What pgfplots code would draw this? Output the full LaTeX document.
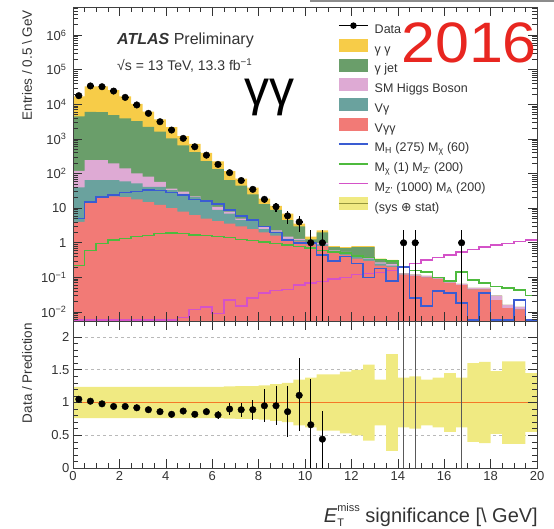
\documentclass[border=0pt]{standalone}
\usepackage{pgfplots}
\pgfplotsset{compat=1.18}
\usepackage{pgfplotstable}
\usepackage{fontspec}
\setmainfont{Liberation Sans}
\newfontfamily\dejavu{DejaVu Sans}

\definecolor{cyy}{RGB}{247,204,72}
\definecolor{cgj}{RGB}{106,158,106}
\definecolor{chig}{RGB}{222,170,212}
\definecolor{cvg}{RGB}{106,162,158}
\definecolor{cvgg}{RGB}{242,122,118}
\definecolor{lblue}{RGB}{58,92,210}
\definecolor{lgreen}{RGB}{78,186,62}
\definecolor{lmag}{RGB}{212,82,200}
\definecolor{bandc}{RGB}{240,234,130}
\definecolor{bandl}{RGB}{150,150,60}
\definecolor{redtxt}{RGB}{232,38,32}
\definecolor{oline}{RGB}{245,120,40}

% cumulative stack tops per 0.5 bin (left edge), plus signal shapes
\pgfplotstableread{
x     red     teal    higgs   gjet    tot     sigA    sigB    sigC
0     4       40      120     4500    17000   5       0.22    0.0058
0.5   14      65      245     6100    33300   15      0.6     0.0058
1     20      65      245     6000    33000   21      0.95    0.0058
1.5   22      65      196     4900    25700   24      1.2     0.0058
2     21      60      141     3950    16900   28      1.35    0.0058
2.5   18      52      101     3300    10400   30      1.5     0.0058
3     15      41      81      2240    6200    33      1.65    0.0058
3.5   12.5    41      58      1620    3660    32      1.85    0.0058
4     10      33      37      1040    2200    28      1.9     0.0058
4.5   8       26      30      650     1200    24      1.85    0.007
5     6.3     21      22      420     725     18      1.7     0.012
5.5   5       15      16      230     397     16      1.6     0.014
6     4.2     9       11      135     227     13      1.5     0.009
6.5   3.6     7       8       65      118     9       1.4     0.022
7     3.0     4.5     5       45      71      6       1.25    0.015
7.5   2.5     4.2     4.5     25      39      4.5     1.15    0.025
8     2.0     2.5     3.0     13      19      3.0     1.05    0.035
8.5   1.6     2.1     2.3     9       11.6    2.0     0.95    0.042
9     1.2     1.3     1.5     4.5     7       1.2     0.85    0.045
9.5   1.1     1.2     1.3     3.0     3.6     1.0     0.78    0.06
10    0.9     0.95    1.0     1.25    1.5     1.0     0.7     0.068
10.5  0.8     0.9     1.0     2.0     2.3     0.45    0.6     0.075
11    0.5     0.55    0.6     0.75    0.8     0.3     0.55    0.09
11.5  0.45    0.5     0.55    0.7     0.75    0.4     0.5     0.1
12    0.35    0.4     0.42    0.75    0.8     0.25    0.42    0.12
12.5  0.3     0.35    0.38    0.75    0.8     0.1     0.38    0.13
13    0.22    0.25    0.27    0.33    0.35    0.18    0.33    0.14
13.5  0.2     0.22    0.24    0.3     0.32    0.08    0.3     0.16
14    0.12    0.12    0.13    0.13    0.13    0.2     0.2     0.2
14.5  0.11    0.11    0.12    0.12    0.12    0.025   0.16    0.25
15    0.1     0.1     0.11    0.11    0.11    0.015   0.145   0.32
15.5  0.09    0.09    0.1     0.1     0.1     0.04    0.1     0.38
16    0.07    0.07    0.075   0.075   0.075   0.035   0.08    0.45
16.5  0.06    0.06    0.065   0.065   0.065   0.018   0.145   0.55
17    0.045   0.045   0.05    0.05    0.05    0.0058  0.085   0.65
17.5  0.045   0.045   0.05    0.05    0.05    0.035   0.068   0.75
18    0.022   0.022   0.03    0.03    0.03    0.0058  0.055   0.85
18.5  0.013   0.013   0.016   0.016   0.016   0.0058  0.05    0.95
19    0.012   0.012   0.014   0.014   0.014   0.022   0.043   1.1
19.5  0.0001  0.0001  0.0001  0.0001  0.0001  0.0058  0.03    1.2
20    0.0001  0.0001  0.0001  0.0001  0.0001  0.0058  0.03    1.2
}\stack

% observed events per bin
\pgfplotstableread{
x      y      ep     em
0.25   17800  133    133
0.75   34000  184    184
1.25   32300  180    180
1.75   24200  156    156
2.25   15900  126    126
2.75   9600   98     98
3.25   5500   74     74
3.75   3150   56     56
4.25   1810   43     43
4.75   1040   32     32
5.25   595    24     24
5.75   341    18     18
6.25   184    13.6   13.6
6.75   106    10.3   10.3
7.25   63     7.9    7.9
7.75   35     5.9    5.9
8.25   18     4.2    4.2
8.75   11     3.3    3.3
9.25   6      2.45   2.45
9.75   4      2      2
10.25  1      1.3    0.999
10.75  1      1.3    0.999
14.25  1      1.3    0.999
14.75  1      1.3    0.999
16.75  1      1.3    0.999
}\data

% data / prediction
\pgfplotstableread{
x      r      ep     em
0.25   1.05   0.015  0.015
0.75   1.02   0.01   0.01
1.25   0.98   0.01   0.01
1.75   0.94   0.01   0.01
2.25   0.94   0.01   0.01
2.75   0.92   0.012  0.012
3.25   0.89   0.015  0.015
3.75   0.86   0.02   0.02
4.25   0.82   0.025  0.025
4.75   0.87   0.03   0.03
5.25   0.82   0.035  0.035
5.75   0.86   0.045  0.045
6.25   0.81   0.06   0.06
6.75   0.90   0.09   0.09
7.25   0.89   0.11   0.11
7.75   0.89   0.15   0.15
8.25   0.95   0.25   0.25
8.75   0.95   0.3    0.3
9.25   0.86   0.39   0.39
9.75   1.11   0.57   0.55
10.25  0.66   0.7    0.66
10.75  0.44   0.43   0.44
}\ratio

% sys + stat uncertainty band on the ratio: lower edge and width
\pgfplotstableread{
x     lo     w
0     0.76   0.48
0.5   0.76   0.48
1     0.76   0.48
1.5   0.76   0.48
2     0.76   0.48
2.5   0.76   0.48
3     0.76   0.48
3.5   0.76   0.48
4     0.76   0.48
4.5   0.76   0.48
5     0.76   0.48
5.5   0.76   0.48
6     0.76   0.48
6.5   0.755  0.49
7     0.75   0.50
7.5   0.75   0.50
8     0.74   0.52
8.5   0.72   0.56
9     0.70   0.60
9.5   0.65   0.70
10    0.62   0.76
10.5  0.57   0.86
11    0.57   0.86
11.5  0.53   0.94
12    0.50   1.00
12.5  0.42   1.16
13    0.65   0.70
13.5  0.26   1.48
14    0.62   0.76
14.5  0.60   0.80
15    0.65   0.70
15.5  0.62   0.76
16    0.55   0.90
16.5  0.62   0.76
17    0.40   1.20
17.5  0.38   1.24
18    0.52   0.96
18.5  0.37   1.26
19    0.37   1.26
19.5  0.55   0.90
20    0.55   0.90
}\band

\pgfplotsset{
  panel/.style={
    scale only axis, width=464pt,
    xmin=0, xmax=20,
    tick align=inside,
    major tick length=9pt, minor tick length=5pt,
    tick style={line width=0.6pt, black!80},
    axis line style={black!75, line width=0.8pt},
    tick label style={font=\fontsize{13}{15}\selectfont, text=black!80},
    /pgf/number format/assume math mode=true,
    xtick={0,2,...,20}, minor x tick num=3,
    axis on top,
  },
  hist/.style={const plot, draw=none, forget plot},
  sig/.style={const plot, line width=1.5pt, forget plot},
  offscale/.style={black!65, line width=1.4pt, forget plot},
  % legend symbols, all in one fixed-size cell
  legbox/.style={legend image code/.code={
    \path[draw=none, fill=none] (0pt,-4.5pt) rectangle (29pt,13pt);
    \fill[#1, draw=none] (0pt,-2.5pt) rectangle (29pt,10.5pt);}},
  legline/.style={legend image code/.code={
    \path[draw=none, fill=none] (0pt,-4.5pt) rectangle (29pt,13pt);
    \draw[#1, line width=1.6pt] (0pt,4pt) -- (29pt,4pt);}},
}

\begin{document}
\begin{tikzpicture}
\path[use as bounding box] (0pt,0pt) rectangle (554pt,-529pt);
\fill[black!45] (310pt,0pt) rectangle (554pt,-2.5pt);

% ---------------- upper panel: event yields ----------------
\begin{axis}[
  panel,
  at={(73pt,-321pt)}, anchor=south west, height=314pt,
  ymode=log, ymin=0.0055, ymax=6.5e6, log origin y=infty,
  xticklabels={},
  ytick={1e-2,1e-1,1,10,1e2,1e3,1e4,1e5,1e6},
  yticklabels={10\textsuperscript{−2},10\textsuperscript{−1},1,10,10\textsuperscript{2},10\textsuperscript{3},10\textsuperscript{4},10\textsuperscript{5},10\textsuperscript{6}},
  minor ytick={0.006,0.007,0.008,0.009,0.02,0.03,0.04,0.05,0.06,0.07,0.08,0.09,0.2,0.3,0.4,0.5,0.6,0.7,0.8,0.9,2,3,4,5,6,7,8,9,20,30,40,50,60,70,80,90,200,300,400,500,600,700,800,900,2000,3000,4000,5000,6000,7000,8000,9000,2e4,3e4,4e4,5e4,6e4,7e4,8e4,9e4,2e5,3e5,4e5,5e5,6e5,7e5,8e5,9e5,2e6,3e6,4e6,5e6,6e6},
  yticklabel style={xshift=-3pt},
  legend cell align=left,
  legend style={
    at={(0.571,0.970)}, anchor=north west,
    draw=none, fill=none, inner sep=0pt,
    font=\fontsize{12.5}{14}\selectfont,
    row sep=0pt,
    nodes={inner sep=0pt, text height=10.5pt, text depth=3pt, text=black!80},
    /tikz/every odd column/.append style={column sep=6pt},
  },
]
\addplot[hist, fill=cyy]  table[x=x, y=tot]   {\stack} \closedcycle;
\addplot[hist, fill=cgj]  table[x=x, y=gjet]  {\stack} \closedcycle;
\addplot[hist, fill=chig] table[x=x, y=higgs] {\stack} \closedcycle;
\addplot[hist, fill=cvg]  table[x=x, y=teal]  {\stack} \closedcycle;
\addplot[hist, fill=cvgg] table[x=x, y=red]   {\stack} \closedcycle;

\addplot[sig, lmag]   table[x=x, y=sigC] {\stack};
\addplot[sig, lgreen] table[x=x, y=sigB] {\stack};
\addplot[sig, lblue]  table[x=x, y=sigA] {\stack};

\addplot[only marks, mark=*, mark size=3.3pt, black, forget plot,
  error bars/.cd, y dir=both, y explicit, x dir=both, x fixed=0.15,
  error mark=none, error bar style={line width=1.2pt, black}]
  table[x=x, y=y, y error plus=ep, y error minus=em] {\data};

\addlegendimage{legend image code/.code={
  \path[draw=none, fill=none] (0pt,-4.5pt) rectangle (29pt,13pt);
  \draw[black, line width=1.2pt] (0pt,4pt) -- (29pt,4pt);
  \fill[black, draw=none] (14.5pt,4pt) circle (3.3pt);}}
\addlegendentry{Data}
\addlegendimage{legbox=cyy}
\addlegendentry{γ γ}
\addlegendimage{legbox=cgj}
\addlegendentry{γ jet}
\addlegendimage{legbox=chig}
\addlegendentry{SM Higgs Boson}
\addlegendimage{legbox=cvg}
\addlegendentry{Vγ}
\addlegendimage{legbox=cvgg}
\addlegendentry{Vγγ}
\addlegendimage{legline=lblue}
\addlegendentry{M\textsubscript{H} (275) M\textsubscript{χ} (60)}
\addlegendimage{legline=lgreen}
\addlegendentry{M\textsubscript{χ} (1) M\textsubscript{Z'} (200)}
\addlegendimage{legline=lmag}
\addlegendentry{M\textsubscript{Z'} (1000) M\textsubscript{A} (200)}
\addlegendimage{legend image code/.code={
  \path[draw=none, fill=none] (0pt,-4.5pt) rectangle (29pt,13pt);
  \fill[bandc, draw=none] (0pt,-2.5pt) rectangle (29pt,10.5pt);
  \draw[bandl, line width=1.5pt] (0pt,4pt) -- (29pt,4pt);}}
\addlegendentry{(sys {\dejavu ⊕} stat)}
\end{axis}

% ---------------- lower panel: ratio ----------------
\begin{axis}[
  panel,
  at={(73pt,-468pt)}, anchor=south west, height=147pt,
  ymin=0, ymax=2.245,
  ytick={0,0.5,1,1.5,2}, minor y tick num=4,
  yticklabels={0,0.5,1,1.5,2},
  xticklabels={0,2,4,6,8,10,12,14,16,18,20},
]
\addplot[gray!55, dashed, line width=0.8pt, forget plot] coordinates {(0,0.5) (20,0.5)};
\addplot[gray!55, dashed, line width=0.8pt, forget plot] coordinates {(0,1.5) (20,1.5)};
\addplot[gray!55, dashed, line width=0.8pt, forget plot] coordinates {(0,2) (20,2)};

\addplot[const plot, draw=none, stack plots=y, forget plot] table[x=x, y=lo] {\band};
\addplot[const plot, draw=none, fill=bandc, stack plots=y, forget plot] table[x=x, y=w] {\band} \closedcycle;

\addplot[oline, line width=1pt, forget plot] coordinates {(0,1) (20,1)};

% ratios far above the range: only their error bars cross the panel
\addplot[offscale] coordinates {(14.25,0) (14.25,2.245)};
\addplot[offscale] coordinates {(14.75,0) (14.75,2.245)};
\addplot[offscale] coordinates {(16.75,0) (16.75,2.245)};

\addplot[only marks, mark=*, mark size=3.3pt, black, forget plot,
  error bars/.cd, y dir=both, y explicit,
  error mark=none, error bar style={line width=1pt, black}]
  table[x=x, y=r, y error plus=ep, y error minus=em] {\ratio};
\end{axis}

% ---------------- texts ----------------
\node[anchor=base west, inner sep=0pt, font=\fontsize{16}{18}\selectfont, text=black!80] at (117pt,-45pt) {\textbf{\textit{ATLAS}} Preliminary};
\node[anchor=base west, inner sep=0pt, font=\fontsize{14}{16}\selectfont, text=black!80] at (117pt,-71pt) {√s = 13 TeV, 13.3 fb\textsuperscript{−1}};
\node[anchor=base west, inner sep=0pt, font=\fontsize{50}{50}\selectfont] at (244pt,-106pt) {γγ};
\node[anchor=base west, inner sep=0pt, xscale=1.07, font=\fontsize{57}{57}\selectfont, text=redtxt] at (401pt,-63pt) {2016};

\node[rotate=90, anchor=east, inner sep=0pt, font=\fontsize{13.5}{15}\selectfont, text=black!80] at (27pt,-10pt) {Entries / 0.5 \textbackslash\ GeV};
\node[rotate=90, anchor=east, inner sep=0pt, font=\fontsize{13.5}{15}\selectfont, text=black!80] at (27pt,-323pt) {Data / Prediction};
\node[anchor=base east, inner sep=0pt, font=\fontsize{20}{22}\selectfont, text=black!80] at (538pt,-522pt)
  {\textit{E}\makebox[0pt][l]{\raisebox{-0.45ex}{\fontsize{11}{11}\selectfont T}}\raisebox{1.0ex}{\fontsize{11}{11}\selectfont miss} significance [\textbackslash\ GeV]};
\end{tikzpicture}
\end{document}
